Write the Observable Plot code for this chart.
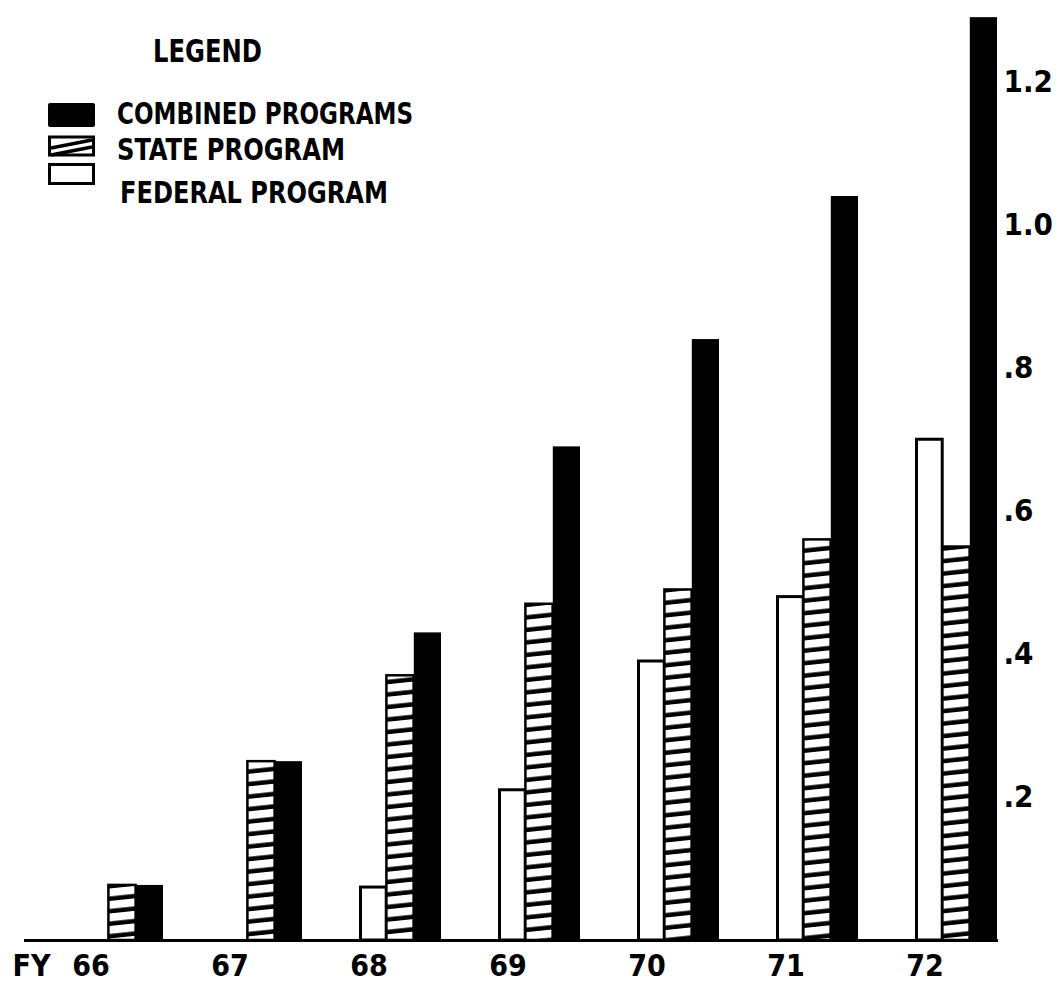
<!DOCTYPE html>
<html>
<head>
<meta charset="utf-8">
<script src="https://cdn.jsdelivr.net/npm/d3@7"></script>
<script src="https://cdn.jsdelivr.net/npm/@observablehq/plot@0.6"></script>
<style>
  html, body { margin: 0; padding: 0; background: white; }
  #wrap { position: relative; width: 1064px; height: 986px; }
  #legend { position: absolute; left: 0; top: 0; }
  text { font-family: "DejaVu Sans Condensed", "DejaVu Sans", sans-serif; font-weight: bold; }
</style>
</head>
<body>
<div id="wrap"></div>
<script>
// ---- data ----
const years = ["66", "67", "68", "69", "70", "71", "72"];
const federal = [0, 0, 0.074, 0.21, 0.39, 0.48, 0.70];
const state = [0.077, 0.25, 0.37, 0.47, 0.49, 0.56, 0.55];
const combined = [0.077, 0.25, 0.43, 0.69, 0.84, 1.04, 1.29];
const yTicks = [0.2, 0.4, 0.6, 0.8, 1.0, 1.2];
const yTickLabels = [".2", ".4", ".6", ".8", "1.0", "1.2"];
const seriesNames = ["COMBINED PROGRAMS", "STATE PROGRAM", "FEDERAL PROGRAM"];
const legendTitle = "LEGEND";
const xPrefix = "FY";

const rows = (vals) => years.map((year, i) => ({year, value: vals[i]})).filter(d => d.value > 0);

// ---- layout ----
const W = 1064, H = 986;
const x0 = 80, x1 = 998, pad = 0.41;
const step = (x1 - x0) / (years.length - pad);
const bw = step * (1 - pad);
const third = bw / 3;
const font = '"DejaVu Sans Condensed", "DejaVu Sans", sans-serif';

const chart = Plot.plot({
  width: W,
  height: H,
  marginLeft: 24,
  marginRight: 66,
  marginTop: 10,
  marginBottom: 46,
  style: {fontFamily: font, fontWeight: "bold", fontSize: "31px", color: "black", background: "white"},
  x: {domain: years, range: [x0, x1], paddingInner: pad, paddingOuter: 0, axis: null},
  y: {
    domain: [0, 1.3],
    axis: "right",
    ticks: yTicks,
    tickFormat: d => yTickLabels[yTicks.findIndex(t => Math.abs(t - d) < 1e-9)],
    tickSize: 0,
    tickPadding: 5,
    label: null
  },
  marks: [
    Plot.barY(rows(federal), {x: "year", y: "value", fill: "white", stroke: "black", strokeWidth: 3, insetLeft: 1.5, insetRight: 2 * third}),
    Plot.barY(rows(state), {x: "year", y: "value", fill: "url(#hatch)", stroke: "black", strokeWidth: 2.5, insetLeft: third, insetRight: third}),
    Plot.barY(rows(combined), {x: "year", y: "value", fill: "black", insetLeft: 2 * third}),
    Plot.ruleY([0], {stroke: "black", strokeWidth: 3}),
    Plot.text(years, {x: d => d, y: () => 0, text: d => d, dy: 26, dx: -third - 4, fontSize: 30, fontWeight: "bold", lineAnchor: "middle"}),
    Plot.text([xPrefix], {frameAnchor: "bottom-left", text: d => d, dx: -12, dy: 26, textAnchor: "start", lineAnchor: "middle", fontSize: 30, fontWeight: "bold"})
  ]
});

// hatch pattern for the state bars
const ns = "http://www.w3.org/2000/svg";
const defs = document.createElementNS(ns, "defs");
defs.innerHTML = `
  <pattern id="hatch" patternUnits="userSpaceOnUse" width="60" height="12.5" patternTransform="skewY(-6)">
    <rect width="60" height="12.5" fill="white"/>
    <rect y="8" width="60" height="4.5" fill="black"/>
  </pattern>`;
chart.insertBefore(defs, chart.firstChild);

const wrap = document.getElementById("wrap");
wrap.appendChild(chart);

// legend overlay
const leg = document.createElementNS(ns, "svg");
leg.setAttribute("id", "legend");
leg.setAttribute("width", 620);
leg.setAttribute("height", 240);
let html = `<text x="153" y="62" font-size="32" textLength="109" lengthAdjust="spacingAndGlyphs">${legendTitle}</text>`;
// swatches
html += `<rect x="48" y="103" width="47" height="24" rx="2" fill="black"/>`;
html += `<rect x="49.5" y="137" width="44" height="18" fill="white" stroke="black" stroke-width="3"/>`;
html += `<path d="M51 148 L92 140 M51 155 L92 147" stroke="black" stroke-width="3.5"/>`;
html += `<rect x="49.5" y="164.5" width="44" height="19" fill="white" stroke="black" stroke-width="3"/>`;
const lx = [117, 117, 120];
const ly = [124, 160, 203];
const lw = [296, 228, 268];
seriesNames.forEach((s, i) => {
  html += `<text x="${lx[i]}" y="${ly[i]}" font-size="30" textLength="${lw[i]}" lengthAdjust="spacingAndGlyphs">${s}</text>`;
});
leg.innerHTML = html;
wrap.appendChild(leg);
</script>
</body>
</html>
